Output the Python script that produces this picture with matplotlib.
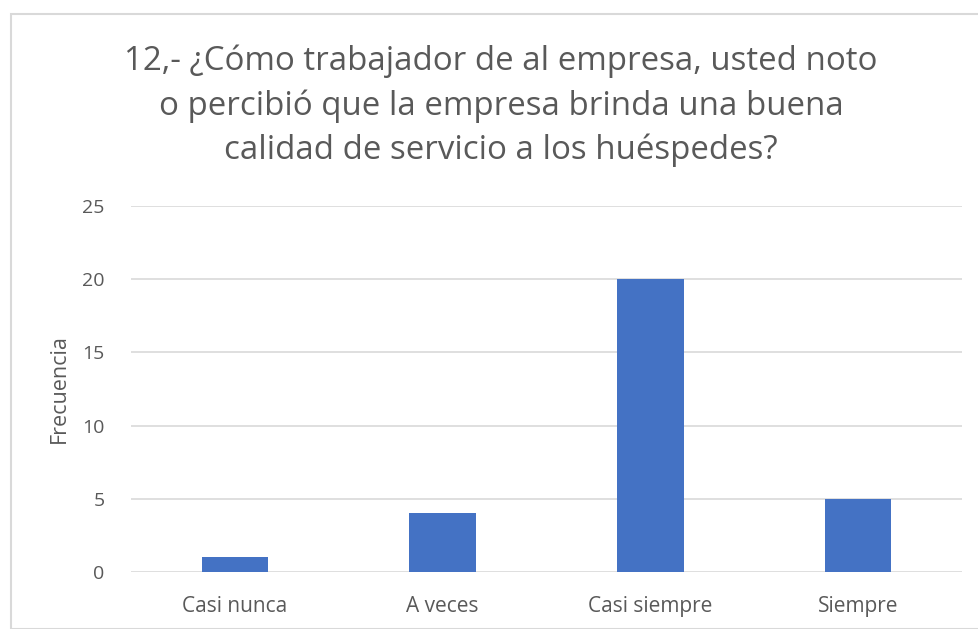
import matplotlib
matplotlib.use("Agg")
import matplotlib.pyplot as plt
from matplotlib.patches import Rectangle

# Datos
categorias = ["Casi nunca", "A veces", "Casi siempre", "Siempre"]
frecuencia = [1, 4, 20, 5]
y_ticks = [0, 5, 10, 15, 20, 25]

titulo = ("12,- ¿Cómo trabajador de al empresa, usted noto\n"
          "o percibió que la empresa brinda una buena\n"
          "calidad de servicio a los huéspedes?")

plt.rcParams['font.family'] = ['Open Sans', 'DejaVu Sans']

W, H = 979, 629
fig = plt.figure(figsize=(W / 100, H / 100), dpi=100)

# borde del grafico (estilo Excel)
fig.patches.append(Rectangle((11 / W, 0), 1.0, 1 - 14 / H, transform=fig.transFigure,
                             fill=False, edgecolor="#d9d9d9", linewidth=1.5))

# area de trazado
left, right = 131 / W, 962 / W
bottom, top = 1 - 572 / H, 1 - 206 / H
ax = fig.add_axes([left, bottom, right - left, top - bottom])

x = range(len(categorias))
ax.bar(x, frecuencia, width=0.32, color="#4472C4", zorder=3)

ax.set_xlim(-0.5, len(categorias) - 0.5)
ax.set_ylim(0, 25)
ax.set_yticks(y_ticks)
ax.set_xticks(list(x))
ax.set_xticklabels(categorias)
ax.yaxis.grid(True, color="#d9d9d9", linewidth=1.2, zorder=0)
for s in ax.spines.values():
    s.set_visible(False)
ax.tick_params(axis="both", length=0, colors="#595959", labelsize=15)
ax.tick_params(axis="y", pad=19, labelsize=14)
ax.tick_params(axis="x", pad=17)

ax.set_ylabel("Frecuencia", color="#595959", fontsize=15.5, labelpad=9)

fig.text(501 / W, 1 - 106 / H, titulo, ha="center", va="center",
         fontsize=23.8, color="#595959", linespacing=1.44)

fig.savefig("out.png", dpi=100)
